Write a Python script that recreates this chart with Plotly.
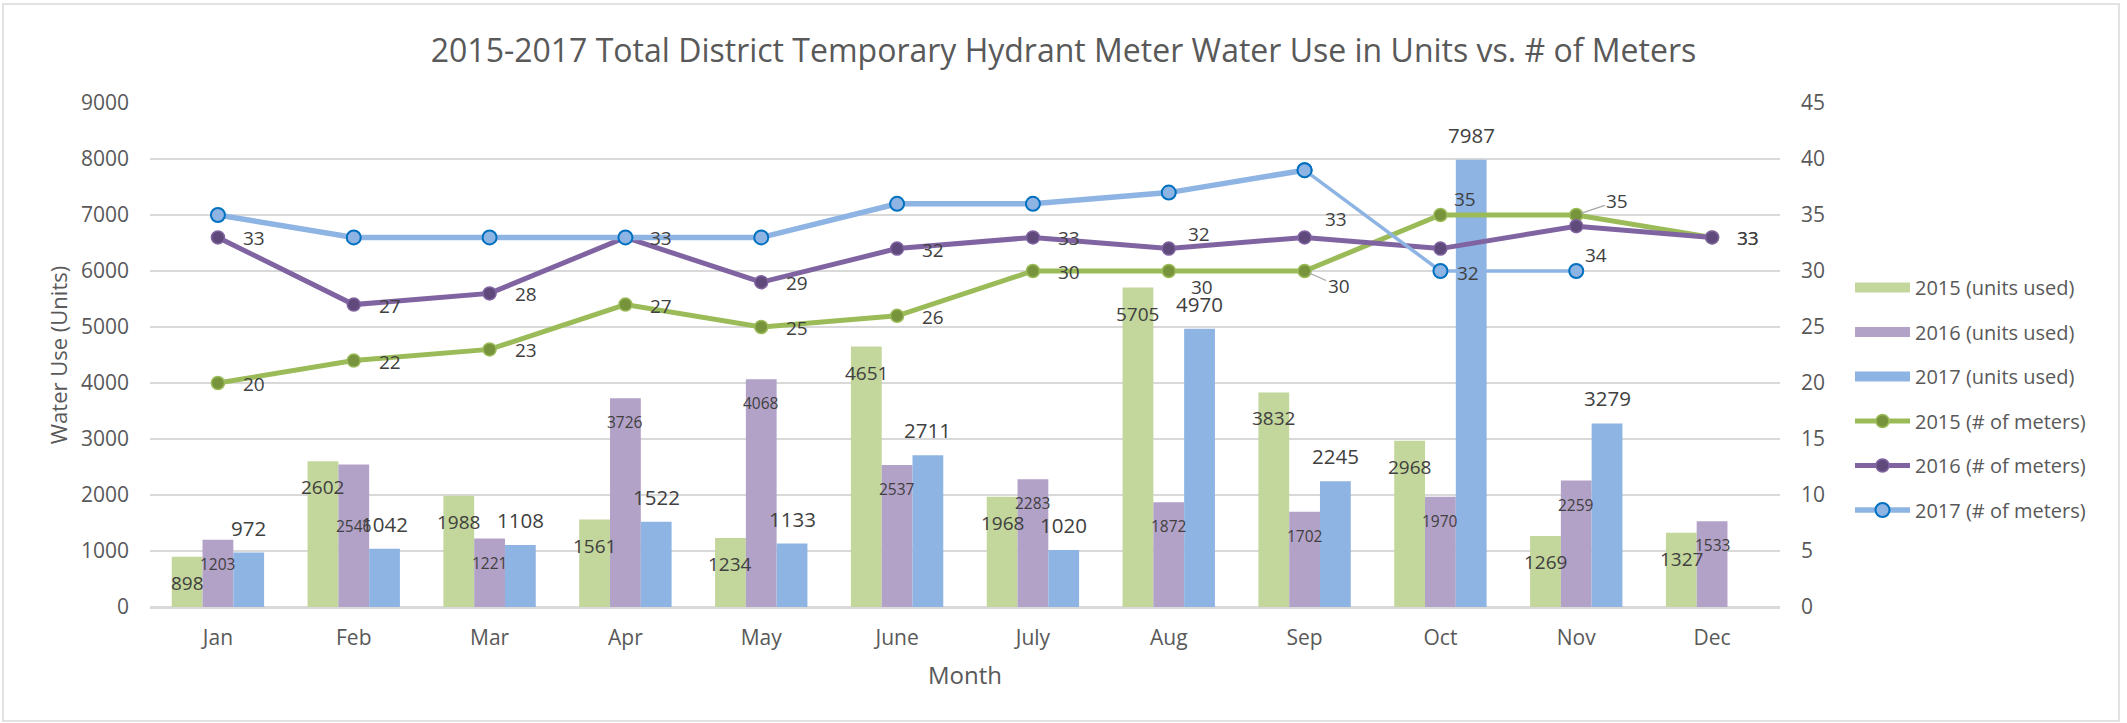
import plotly.graph_objects as go

# ---------------- data ----------------
months = ['Jan', 'Feb', 'Mar', 'Apr', 'May', 'June', 'July', 'Aug', 'Sep', 'Oct', 'Nov', 'Dec']
units_2015 = [898, 2602, 1988, 1561, 1234, 4651, 1968, 5705, 3832, 2968, 1269, 1327]
units_2016 = [1203, 2546, 1221, 3726, 4068, 2537, 2283, 1872, 1702, 1970, 2259, 1533]
units_2017 = [972, 1042, 1108, 1522, 1133, 2711, 1020, 4970, 2245, 7987, 3279, None]
meters_2015 = [20, 22, 23, 27, 25, 26, 30, 30, 30, 35, 35, 33]
meters_2016 = [33, 27, 28, 33, 29, 32, 33, 32, 33, 32, 34, 33]
meters_2017 = [35, 33, 33, 33, 33, 36, 36, 37, 39, 30, 30, None]
left_ticks = [0, 1000, 2000, 3000, 4000, 5000, 6000, 7000, 8000, 9000]
right_ticks = [0, 5, 10, 15, 20, 25, 30, 35, 40, 45]

title = '2015-2017 Total District Temporary Hydrant Meter Water Use in Units vs. # of Meters'

# ---------------- style ----------------
FONT = 'Open Sans, Segoe UI, sans-serif'
AX = '#595959'
LAB = '#404040'
GRID = '#d9d9d9'

W, H = 2127, 723
ML, MR, MT, MB = 150, 347, 103, 116
PW, PH = W - ML - MR, H - MT - MB
BARGAP = 0.32
cat_w = PW / len(months)
bar_w = cat_w * (1 - BARGAP) / 3

c_bar = ['#c3d69b', '#b3a2c7', '#8eb4e3']
c_line = ['#9bbb59', '#8064a2', '#8eb4e3']
c_mark = ['#77933c', '#604a7b', '#8eb4e3']
c_mline = ['#9bbb59', '#8064a2', '#0070c0']

fig = go.Figure()

bar_series = [('2015 (units used)', units_2015), ('2016 (units used)', units_2016), ('2017 (units used)', units_2017)]
for i, (name, vals) in enumerate(bar_series):
    fig.add_trace(go.Bar(x=months, y=vals, name=name, marker=dict(color=c_bar[i], line=dict(width=0)),
                         showlegend=False, legendgroup=name, yaxis='y'))
    # legend swatch (wide rectangle like Excel)
    fig.add_trace(go.Scatter(x=[None], y=[None], mode='lines', name=name, legendgroup=name,
                             line=dict(color=c_bar[i], width=15), yaxis='y'))

line_series = [('2015 (# of meters)', meters_2015), ('2016 (# of meters)', meters_2016)]
for j, (name, vals) in enumerate(line_series):
    fig.add_trace(go.Scatter(x=months, y=vals, name=name, legendgroup=name, mode='lines+markers',
                             yaxis='y2', line=dict(color=c_line[j], width=5),
                             marker=dict(size=13, color=c_mark[j], line=dict(color=c_mline[j], width=1.5))))

# 2017 meters: thick through Sep, thinner afterwards (as in the original)
name17 = '2017 (# of meters)'
fig.add_trace(go.Scatter(x=months[:9], y=meters_2017[:9], name=name17, legendgroup=name17,
                         mode='lines+markers', yaxis='y2', line=dict(color=c_line[2], width=5.5),
                         marker=dict(size=14, color=c_mark[2], line=dict(color=c_mline[2], width=2))))
fig.add_trace(go.Scatter(x=months[8:], y=meters_2017[8:], name=name17, legendgroup=name17, showlegend=False,
                         mode='lines+markers', yaxis='y2', line=dict(color=c_line[2], width=3.5),
                         marker=dict(size=14, color=c_mark[2], line=dict(color=c_mline[2], width=2))))

ann = []
# bar labels
bar_lab_style = [
    dict(size=19, dy=[-26] * 12),
    dict(size=15.5, dy=[-24, -62, -24, -24, -24, -24, -24, -24, -24, -24, -24, -24]),
    dict(size=20.5, dy=[25] * 12),
]
for i, (name, vals) in enumerate(bar_series):
    st = bar_lab_style[i]
    for k, v in enumerate(vals):
        if v is None:
            continue
        ann.append(dict(x=months[k], y=v, xref='x', yref='y', text=str(v), showarrow=False,
                        xanchor='center', yanchor='middle', xshift=(i - 1) * bar_w, yshift=st['dy'][k],
                        font=dict(family=FONT, size=st['size'], color=LAB)))

# meter labels (2015, 2016), offsets (dx to left edge, dy downward) in px
off_2015 = [(23, 1)] * 7 + [(20, 16), None, (12, -16), None, (23, 1)]
off_2016 = [(23, 1)] * 7 + [(17, -15), (18, -18), (15, 24), (7, 29), (23, 1)]
for vals, offs in [(meters_2015, off_2015), (meters_2016, off_2016)]:
    for k, v in enumerate(vals):
        o = offs[k]
        if o is None:
            continue
        ann.append(dict(x=months[k], y=v, xref='x', yref='y2', text=str(v), showarrow=False,
                        xanchor='left', yanchor='middle', xshift=o[0], yshift=-o[1],
                        font=dict(family=FONT, size=19, color=LAB)))
# labels with leader lines
for k, ax_, ay_ in [(8, 34, 15), (10, 41, -14)]:
    ann.append(dict(x=months[k], y=meters_2015[k], xref='x', yref='y2', text=str(meters_2015[k]),
                    showarrow=True, arrowhead=0, arrowwidth=1.3, arrowcolor='#a6a6a6', standoff=5,
                    ax=ax_, ay=ay_, xanchor='center', yanchor='middle',
                    font=dict(family=FONT, size=19, color=LAB)))

# outer chart border
shapes = [dict(type='rect', xref='paper', yref='paper',
               x0=(3 - ML) / PW, x1=(2119 - ML) / PW, y0=(MT + PH - 721) / PH, y1=(MT + PH - 4) / PH,
               line=dict(color=GRID, width=1.5), fillcolor='rgba(0,0,0,0)', layer='below')]

fig.update_layout(
    width=W, height=H,
    margin=dict(l=ML, r=MR, t=MT, b=MB, autoexpand=False),
    paper_bgcolor='white', plot_bgcolor='white',
    barmode='group', bargap=BARGAP, bargroupgap=0,
    title=dict(text=title, x=0.5, xref='container', xanchor='center', y=1 - 51 / H, yanchor='middle',
               font=dict(family=FONT, size=32, color=AX)),
    xaxis=dict(type='category', categoryorder='array', categoryarray=months, range=[-0.5, len(months) - 0.5],
               showgrid=False, showline=False,
               zeroline=False, ticks='', tickfont=dict(family=FONT, size=21, color=AX), ticklabelstandoff=16,
               title=dict(text='Month', font=dict(family=FONT, size=24, color=AX), standoff=17)),
    yaxis=dict(range=[0, 9000], tickvals=left_ticks, showgrid=True, gridcolor=GRID, gridwidth=2,
               zeroline=True, zerolinecolor=GRID, zerolinewidth=3, showline=False, ticks='',
               tickfont=dict(family=FONT, size=21, color=AX), ticklabelstandoff=20,
               title=dict(text='Water Use (Units)', font=dict(family=FONT, size=22, color=AX), standoff=7)),
    yaxis2=dict(range=[0, 45], tickvals=right_ticks, overlaying='y', side='right', showgrid=False,
                zeroline=False, showline=False, ticks='', tickfont=dict(family=FONT, size=21, color=AX),
                ticklabelstandoff=20),
    legend=dict(x=(1850 - ML) / PW, xanchor='left', y=(MT + PH - 268) / PH, yanchor='top',
                traceorder='grouped', tracegroupgap=15.5, itemwidth=55,
                font=dict(family=FONT, size=20, color=AX), bgcolor='rgba(0,0,0,0)'),
    annotations=ann, shapes=shapes,
    hovermode=False,
)

# remove the browser's default 8px body margin so the chart sits at the page origin
fig.write_html('out.html', config={'displayModeBar': False},
               post_script="document.body.style.margin='0';")
